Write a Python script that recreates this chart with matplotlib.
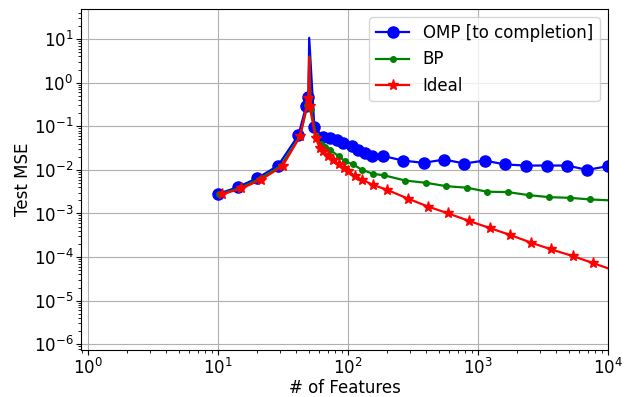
import matplotlib
matplotlib.use("Agg")
import matplotlib.pyplot as plt
from matplotlib.ticker import NullFormatter

# OMP [to completion]
x_omp = [10, 14.2, 20.2, 29.1, 41.7, 47.8, 49.8, 50.5, 55.3, 64.9, 73, 82, 92.5,
         107, 120, 136, 153, 185, 265, 382, 550, 788, 1125, 1622, 2340, 3390,
         4850, 6920, 10000]
y_omp = [2.8e-3, 4.0e-3, 6.5e-3, 1.25e-2, 6.2e-2, 0.287, 0.46, 10.7, 0.095, 0.056,
         0.054, 0.049, 0.042, 0.035, 0.029, 0.0245, 0.0206, 0.021, 0.0164, 0.0145,
         0.0173, 0.014, 0.0164, 0.0133, 0.0126, 0.0126, 0.0126, 0.010, 0.0122]

# BP
x_bp = [10.3, 14.8, 21, 30.5, 43, 49, 49.9, 50.6, 52, 57, 62, 67, 73, 85, 95, 110,
        128, 157, 191, 276, 398, 570, 823, 1180, 1702, 2450, 3535, 5070, 7270, 10480]
y_bp = [2.75e-3, 3.85e-3, 6.2e-3, 1.23e-2, 6.0e-2, 0.3, 0.45, 4.0, 0.25, 0.06, 0.04,
        0.033, 0.029, 0.0206, 0.0159, 0.0133, 0.0101, 0.0081, 0.0075, 0.0057,
        0.00506, 0.00424, 0.0039, 0.00316, 0.0031, 0.00264, 0.00237, 0.00229,
        0.0021, 0.002]

# Ideal
x_ideal = [10.7, 15.2, 21.6, 31.5, 43, 49.8, 50.5, 51, 56.5, 61, 65, 71, 77, 85, 93,
           101, 114, 128, 157, 200, 289, 417, 594, 861, 1244, 1780, 2558, 3662,
           5343, 7670, 11000]
y_ideal = [2.74e-3, 3.75e-3, 6.0e-3, 1.22e-2, 5.9e-2, 0.45, 3.8, 0.287, 0.054, 0.032,
           0.027, 0.0206, 0.0173, 0.0133, 0.011, 0.0093, 0.0072, 0.006, 0.0045,
           0.0035, 0.0022, 0.00143, 0.001, 6.7e-4, 4.6e-4, 3.2e-4, 2.15e-4, 1.5e-4,
           1.06e-4, 7.3e-5, 5.0e-5]

series_labels = ["OMP [to completion]", "BP", "Ideal"]
x_ticks = [1, 10, 100, 1000, 10000]
y_ticks = [1e-6, 1e-5, 1e-4, 1e-3, 1e-2, 1e-1, 1, 10]


def skip_peak(ys):
    peak = ys.index(max(ys))
    return [i for i in range(len(ys)) if i != peak]


fig = plt.figure(figsize=(6.29, 3.97), dpi=100)
ax = fig.add_axes([0.1288, 0.1184, 0.9666 - 0.1288, 0.9773 - 0.1184])

ax.plot(x_omp, y_omp, linestyle='-', marker='o', color='blue', lw=1.6, ms=8,
        markevery=skip_peak(y_omp), label=series_labels[0])
ax.plot(x_bp, y_bp, linestyle='-', marker='.', color='green', lw=1.6, ms=8,
        markevery=skip_peak(y_bp), label=series_labels[1])
ax.plot(x_ideal, y_ideal, linestyle='-', marker='*', color='red', lw=1.6, ms=8,
        markevery=skip_peak(y_ideal), label=series_labels[2])

ax.set_xscale('log')
ax.set_yscale('log')
ax.set_xticks(x_ticks)
ax.set_yticks(y_ticks)
ax.set_xlim(0.89, 1e4)
ax.set_ylim(7.4e-7, 49)
ax.xaxis.set_minor_formatter(NullFormatter())
ax.yaxis.set_minor_formatter(NullFormatter())
ax.grid(True, which='major', color='#b0b0b0', lw=0.8)
ax.set_axisbelow(True)
ax.set_xlabel('# of Features', fontsize=12, labelpad=1)
ax.set_ylabel('Test MSE', fontsize=12, labelpad=1)
ax.tick_params(labelsize=12, pad=2)
ax.legend(loc='upper right', fontsize=12)

fig.savefig('out.png', dpi=100)
